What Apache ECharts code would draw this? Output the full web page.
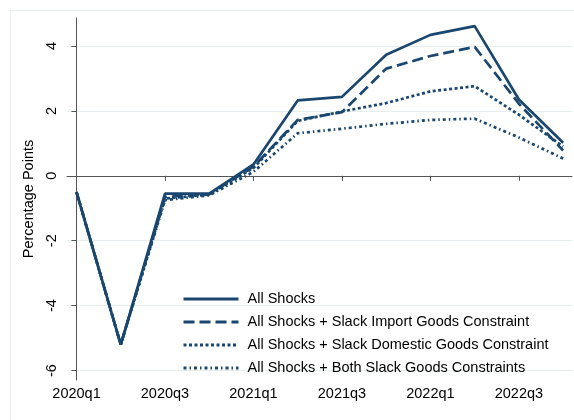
<!DOCTYPE html>
<html>
<head>
<meta charset="utf-8">
<script src="https://cdn.jsdelivr.net/npm/echarts@6/dist/echarts.min.js"></script>
<style>
  html, body { margin: 0; padding: 0; background: #fff; }
  #frame { position: absolute; left: 10px; top: 10px; width: 600px; height: 500px; border: 1px solid #e6eef0; }
  #chart { position: absolute; left: 0; top: 0; width: 574px; height: 420px; }
</style>
</head>
<body>
<div id="frame"></div>
<div id="chart"></div>
<script>
const quarters = ['2020q1', '2020q2', '2020q3', '2020q4', '2021q1', '2021q2',
  '2021q3', '2021q4', '2022q1', '2022q2', '2022q3', '2022q4'];
const tickIdx = [0, 2, 4, 6, 8, 10];
const yTicks = [-6, -4, -2, 0, 2, 4];

const allShocks = [-0.5, -5.2, -0.55, -0.55, 0.35, 2.32, 2.43, 3.73, 4.34, 4.61, 2.35, 1.02];
const slackImport = [-0.5, -5.2, -0.65, -0.57, 0.28, 1.72, 1.96, 3.3, 3.69, 3.97, 2.22, 0.78];
const slackDomestic = [-0.5, -5.2, -0.7, -0.58, 0.24, 1.69, 1.98, 2.24, 2.6, 2.76, 1.88, 0.9];
const bothSlack = [-0.5, -5.2, -0.75, -0.6, 0.12, 1.31, 1.45, 1.6, 1.72, 1.76, 1.18, 0.53];

const names = ['All Shocks', 'All Shocks + Slack Import Goods Constraint',
  'All Shocks + Slack Domestic Goods Constraint', 'All Shocks + Both Slack Goods Constraints'];
const navy = '#1a476f';
const pts = (arr) => arr.map((v, i) => [i, v]);

const chart = echarts.init(document.getElementById('chart'));

const mk = (name, data, type) => ({
  name, type: 'line', data: pts(data), showSymbol: false, symbol: 'none',
  lineStyle: { width: 2.7, color: navy, type }, color: navy, z: 3,
});

chart.setOption({
  animation: false,
  textStyle: { fontFamily: 'Liberation Sans, Arial, sans-serif' },
  grid: { left: 67, right: 2, top: 18, bottom: 40 },
  legend: {
    orient: 'vertical', left: 182, top: 291, itemWidth: 55, itemHeight: 16, itemGap: 7,
    padding: 0,
    itemStyle: { opacity: 0 },
    lineStyle: { width: 3 },
    textStyle: { fontSize: 14.5, color: '#000', lineHeight: 16, padding: [0, 0, 0, 4] },
    data: names,
  },
  xAxis: {
    type: 'value', min: -0.215, max: 11.2,
    axisLine: { lineStyle: { color: '#555', width: 1 } },
    axisTick: { show: true, length: 5, lineStyle: { color: '#555' }, customValues: tickIdx },
    axisLabel: { color: '#000', fontSize: 14.5, margin: 6, customValues: tickIdx,
      formatter: (v) => quarters[Math.round(v)] },
    splitLine: { show: false },
  },
  yAxis: {
    type: 'value', min: -6.29, max: 4.86,
    name: 'Percentage Points', nameLocation: 'middle', nameGap: 27,
    nameTextStyle: { color: '#000', fontSize: 14.5 },
    axisLine: { show: true, lineStyle: { color: '#555', width: 1 } },
    axisTick: { show: true, length: 5, lineStyle: { color: '#555' }, customValues: yTicks },
    axisLabel: { color: '#000', fontSize: 14.5, rotate: 90, margin: 8, customValues: yTicks },
    splitLine: { show: true, lineStyle: { color: '#e6eef0', width: 1 } },
  },
  series: [
    mk(names[0], allShocks, 'solid'),
    mk(names[1], slackImport, [11, 5]),
    mk(names[2], slackDomestic, [3, 2.5]),
    mk(names[3], bothSlack, [3, 3, 1.5, 3]),
  ],
});
</script>
</body>
</html>
